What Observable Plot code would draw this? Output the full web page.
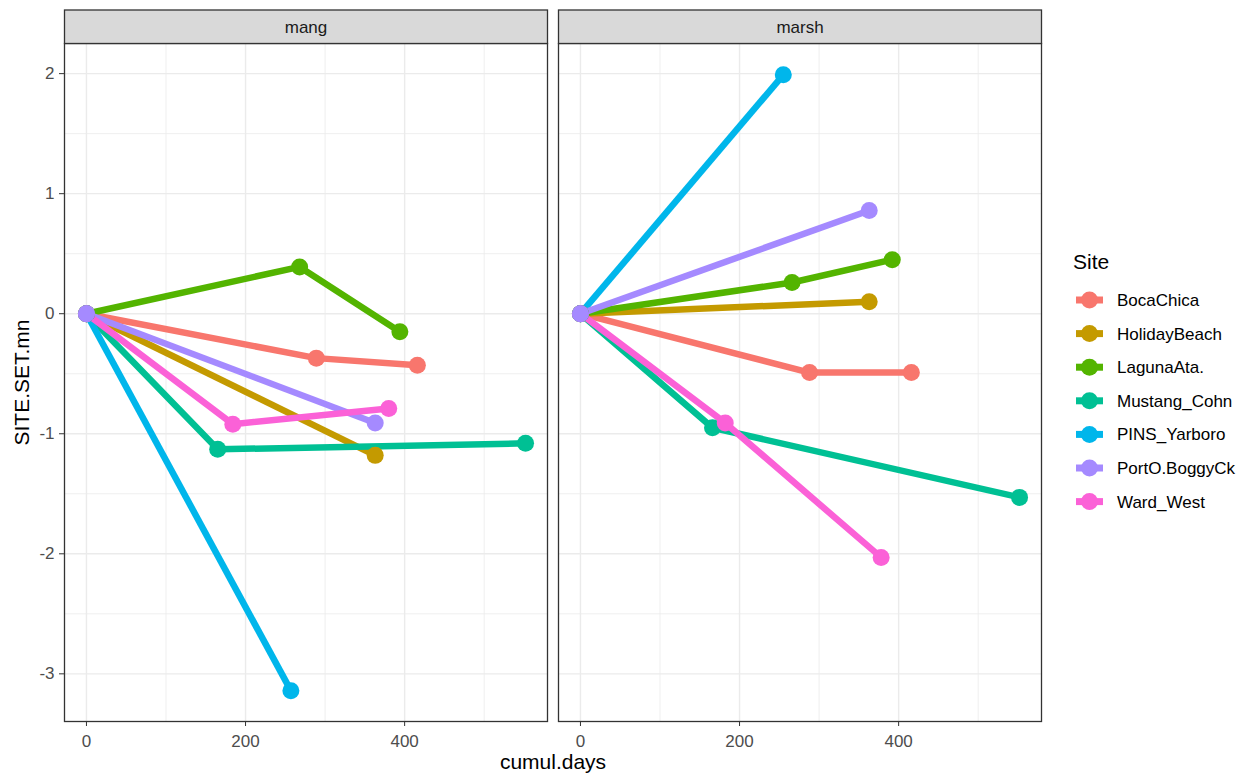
<!DOCTYPE html>
<html><head><meta charset="utf-8">
<script src="https://cdn.jsdelivr.net/npm/d3@7"></script>
<script src="https://cdn.jsdelivr.net/npm/@observablehq/plot@0.6"></script>
<style>
body{margin:0;background:#fff}
#chart{position:relative;width:1249px;height:775px}
</style>
</head><body><div id="chart"></div>
<script>
// ---- data ----
const sites = ["BocaChica","HolidayBeach","LagunaAta.","Mustang_Cohn","PINS_Yarboro","PortO.BoggyCk","Ward_West"];
const siteColors = ["#F8766D","#C49A00","#53B400","#00C094","#00B6EB","#A58AFF","#FB61D7"];
const habitats = ["mang","marsh"];

const rowHabitat = [
  "mang","mang","mang", "mang","mang", "mang","mang","mang", "mang","mang","mang", "mang","mang", "mang","mang", "mang","mang","mang",
  "marsh","marsh","marsh", "marsh","marsh", "marsh","marsh","marsh", "marsh","marsh","marsh", "marsh","marsh", "marsh","marsh", "marsh","marsh","marsh"
];
const rowSite = [
  "BocaChica","BocaChica","BocaChica", "HolidayBeach","HolidayBeach", "LagunaAta.","LagunaAta.","LagunaAta.",
  "Mustang_Cohn","Mustang_Cohn","Mustang_Cohn", "PINS_Yarboro","PINS_Yarboro", "PortO.BoggyCk","PortO.BoggyCk",
  "Ward_West","Ward_West","Ward_West",
  "BocaChica","BocaChica","BocaChica", "HolidayBeach","HolidayBeach", "LagunaAta.","LagunaAta.","LagunaAta.",
  "Mustang_Cohn","Mustang_Cohn","Mustang_Cohn", "PINS_Yarboro","PINS_Yarboro", "PortO.BoggyCk","PortO.BoggyCk",
  "Ward_West","Ward_West","Ward_West"
];
const rowDays = [
  0,289,416, 0,363, 0,268,394, 0,165,552, 0,257, 0,363, 0,184,380,
  0,288,416, 0,363, 0,266,392, 0,166,552, 0,255, 0,363, 0,182,378
];
const rowValue = [
  0,-0.37,-0.43, 0,-1.18, 0,0.39,-0.15, 0,-1.13,-1.08, 0,-3.14, 0,-0.91, 0,-0.92,-0.79,
  0,-0.49,-0.49, 0,0.10, 0,0.26,0.45, 0,-0.95,-1.53, 0,1.99, 0,0.86, 0,-0.91,-2.03
];
const xMajor = [0,200,400];
const xMinor = [100,300,500];
const yMajor = [-3,-2,-1,0,1,2];
const yMinor = [-2.5,-1.5,-0.5,0.5,1.5];

const rows = rowDays.map((d,i)=>({hab:rowHabitat[i], site:rowSite[i], days:d, value:rowValue[i]}));

// ---- layout ----
const W=1249, H=775, mL=63, mR=207, mT=43, mB=54;
const FONT = "'Liberation Sans', Arial, sans-serif";

const chart = Plot.plot({
  width:W, height:H, marginLeft:mL, marginRight:mR, marginTop:mT, marginBottom:mB,
  style:{fontFamily:FONT, fontSize:"17px", color:"#4D4D4D", background:"#fff"},
  fx:{domain:habitats, padding:0.0222, axis:null},
  x:{domain:[-27.6,579.6]},
  y:{domain:[-3.397,2.251]},
  color:{domain:sites, range:siteColors},
  marks:[
    Plot.gridX({ticks:xMinor, stroke:"#EBEBEB", strokeOpacity:1, strokeWidth:0.8}),
    Plot.gridY({ticks:yMinor, stroke:"#EBEBEB", strokeOpacity:1, strokeWidth:0.8}),
    Plot.gridX({ticks:xMajor, stroke:"#EBEBEB", strokeOpacity:1, strokeWidth:1.4}),
    Plot.gridY({ticks:yMajor, stroke:"#EBEBEB", strokeOpacity:1, strokeWidth:1.4}),
    Plot.line(rows, {x:"days", y:"value", z:"site", stroke:"site", fx:"hab", strokeWidth:6.5, strokeLinecap:"butt"}),
    Plot.dot(rows, {x:"days", y:"value", fill:"site", fx:"hab", r:8.5, sort:d => d.site === "PortO.BoggyCk" ? 1 : 0}),
    Plot.frame({stroke:"#333333", strokeWidth:1.3}),
    Plot.axisY({ticks:yMajor, tickFormat:d=>String(d), tickSize:5, tickPadding:5, label:null, stroke:"#333333", fill:"#4D4D4D", fontSize:17}),
    Plot.axisX({ticks:xMajor, tickFormat:d=>String(d), tickSize:5, tickPadding:8, label:null, stroke:"#333333", fill:"#4D4D4D", fontSize:17})
  ]
});

const host = document.getElementById("chart");
host.append(chart);

const svg = d3.select(chart);
const svgBox = chart.getBoundingClientRect();
const frames = Array.from(chart.querySelectorAll('g[aria-label="frame"] rect')).map(r => {
  const b = r.getBoundingClientRect();
  return {left:b.left - svgBox.left, right:b.right - svgBox.left, top:b.top - svgBox.top, bottom:b.bottom - svgBox.top};
}).sort((a,b)=>a.left-b.left);

// strips
const stripG = svg.append("g");
frames.forEach((f,i)=>{
  stripG.append("rect").attr("x",f.left).attr("y",10).attr("width",f.right-f.left).attr("height",f.top-10)
    .attr("fill","#D9D9D9").attr("stroke","#333333").attr("stroke-width",1.3);
  stripG.append("text").attr("x",(f.left+f.right)/2).attr("y",(10+f.top)/2).attr("dy","0.35em")
    .attr("text-anchor","middle").attr("font-family",FONT).attr("font-size",17).attr("fill","#1A1A1A")
    .text(habitats[i]);
});

// axis titles
const panelTop = frames[0].top, panelBottom = frames[0].bottom;
svg.append("text").attr("transform",`translate(22,${(panelTop+panelBottom)/2}) rotate(-90)`)
  .attr("text-anchor","middle").attr("dy","0.35em").attr("font-family",FONT).attr("font-size",21).attr("fill","#000")
  .text("SITE.SET.mn");
svg.append("text").attr("x",(frames[0].left+frames[frames.length-1].right)/2).attr("y",769)
  .attr("text-anchor","middle").attr("font-family",FONT).attr("font-size",21).attr("fill","#000")
  .text("cumul.days");

// legend
const color = chart.scale("color");
const lg = svg.append("g").attr("text-anchor","start");
lg.append("text").attr("x",1073).attr("y",269).attr("text-anchor","start").attr("font-family",FONT).attr("font-size",21).attr("fill","#000").text("Site");
sites.forEach((s,i)=>{
  const cy = 300 + i*33.6;
  const c = color.apply(s);
  lg.append("line").attr("x1",1076).attr("x2",1103).attr("y1",cy).attr("y2",cy).attr("stroke",c).attr("stroke-width",7);
  lg.append("circle").attr("cx",1089.5).attr("cy",cy).attr("r",8.5).attr("fill",c);
  lg.append("text").attr("x",1117).attr("y",cy).attr("dy","0.35em").attr("text-anchor","start").attr("font-family",FONT).attr("font-size",17).attr("fill","#000").text(s);
});
</script>
</body></html>
